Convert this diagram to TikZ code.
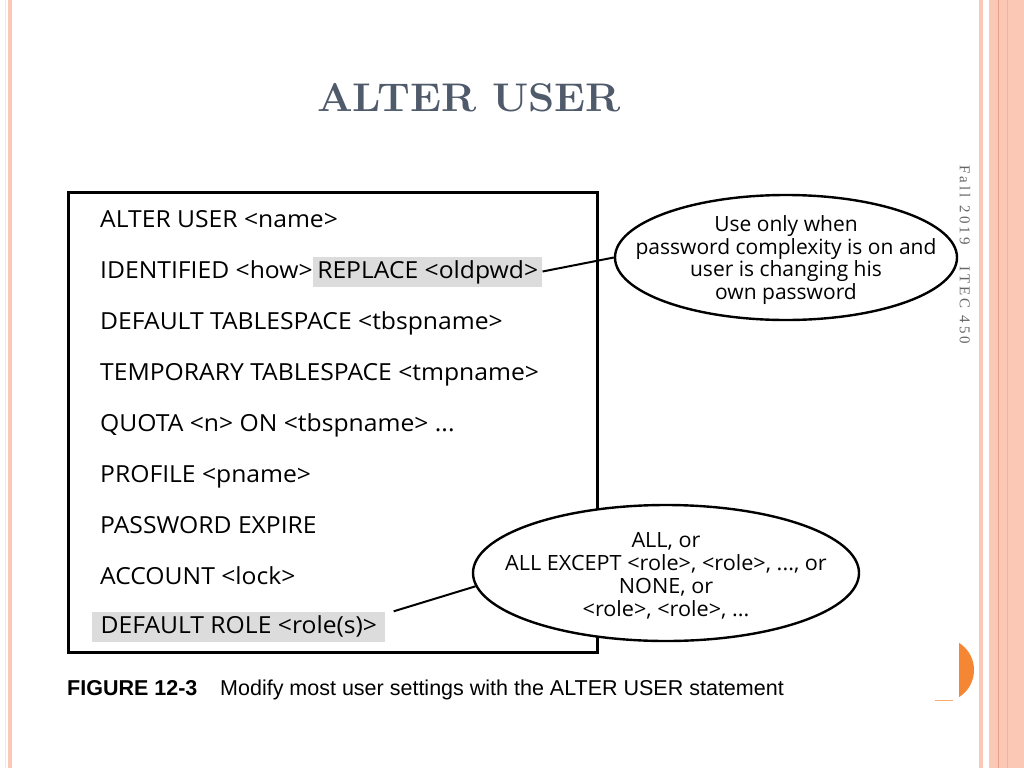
\documentclass[tikz,border=0pt]{standalone}
\usepackage{fontspec}
\usetikzlibrary{shapes.geometric,positioning}
\newfontfamily\figfont{Open Sans}
\newfontfamily\capfont{Liberation Sans}
\newfontfamily\slidefont[LetterSpace=20]{Liberation Serif}
\definecolor{salmon}{HTML}{FBC8B5}
\definecolor{paleband}{HTML}{F7E6D9}
\definecolor{darkband}{HTML}{E6A085}
\definecolor{titlegray}{HTML}{4F5A6A}
\definecolor{hlgray}{HTML}{DCDCDC}
\definecolor{accent}{HTML}{F58634}

\tikzset{
  codeline/.style={anchor=base west, inner sep=0pt, xscale=1.05, font=\figfont\fontsize{23.5}{28}\selectfont},
  hilite/.style={codeline, fill=hlgray, text height=19pt, text depth=6pt, inner ysep=2.5pt},
  callout/.style={ellipse, draw, line width=2.4pt, fill=white, inner sep=0pt},
  notetext/.style={align=center, inner sep=0pt, font=\figfont\fontsize{21}{22.8}\selectfont},
  lead/.style={line width=2pt}
}

\begin{document}
\begin{tikzpicture}[x=1pt, y=-1pt]
  \useasboundingbox[fill=white] (0,0) rectangle (1024,768);
  % side bands
  \fill[paleband] (4.5,0) rectangle (6,768);
  \fill[salmon] (7.5,0) rectangle (12,768);
  \fill[salmon] (979,0) rectangle (983,768);
  \fill[salmon] (989,0) rectangle (1024,768);
  \draw[darkband, line width=1.2pt] (998.5,0) -- (998.5,768);
  \draw[darkband!50!salmon, line width=0.8pt] (1007,0) -- (1007,768);
  % accent
  \begin{scope}
    \clip (959,600) rectangle (1000,720);
    \fill[accent] (942,670) circle (32pt);
  \end{scope}
  \draw[accent!70, line width=1pt] (935,700) -- (953,700);

  \node[font=\bfseries\fontsize{40}{46}\selectfont, text=titlegray, xscale=1.05] (title) at (469,98) {ALTER USER};
  \node[rotate=-90, anchor=west, inner sep=0pt, font=\slidefont\fontsize{15}{18}\selectfont, text=black!60] (foot) at (965,165)
    {Fall\hspace{8pt}2019\hspace{22pt}ITEC 450};

  %\draw[very thin, gray] (0,0) grid[step=50pt] (1024,768);
  \draw[line width=3pt] (68,192) rectangle (597,652);
  \node[codeline] (l1) at (100,227) {ALTER USER <name>};
  \node[codeline] (l2a) at (100,278) {IDENTIFIED <how>};
  \node[hilite, inner xsep=4pt] (l2b) at (l2a.base east) {REPLACE <oldpwd>};
  \node[codeline] (l3) at (100,329) {DEFAULT TABLESPACE <tbspname>};
  \node[codeline] (l4) at (100,380) {TEMPORARY TABLESPACE <tmpname>};
  \node[codeline] (l5) at (100,431) {QUOTA <n> ON <tbspname> ...};
  \node[codeline] (l6) at (100,482) {PROFILE <pname>};
  \node[codeline] (l7) at (100,533) {PASSWORD EXPIRE};
  \node[codeline] (l8) at (100,584) {ACCOUNT <lock>};
  \node[hilite, inner xsep=8pt] (l9) at (92,633) {DEFAULT ROLE <role(s)>};

  \node[callout, minimum width=342pt, minimum height=125pt] (pwnote) at (786,257.5) {};
  \node[notetext] (pwtext) at ([yshift=-2.5pt]pwnote.center)
    {Use only when\\password complexity is on and\\user is changing his\\own password};
  \node[callout, minimum width=386pt, minimum height=136pt] (rolenote) at (666,573) {};
  \node[notetext, xscale=1.03] (roletext) at ([yshift=-3pt]rolenote.center)
    {ALL, or\\ALL EXCEPT <role>, <role>, ..., or\\NONE, or\\<role>, <role>, ...};
  \draw[lead] (l2b.east) -- (pwnote.west);
  \draw[lead] ([xshift=8pt]l9.north east) -- (rolenote.184);

  \node[anchor=base west, inner sep=0pt, font=\capfont\bfseries\fontsize{21.5}{25}\selectfont] (fig) at (67,695) {FIGURE 12-3};
  \node[anchor=base west, inner sep=0pt, font=\capfont\fontsize{21.5}{25}\selectfont] (figtext) at (220,695)
    {Modify most user settings with the ALTER USER statement};
\end{tikzpicture}
\end{document}
